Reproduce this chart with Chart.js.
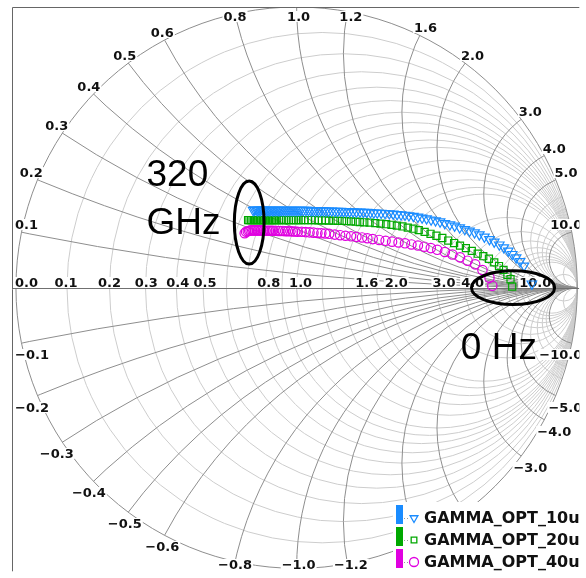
<!DOCTYPE html>
<html>
<head>
<meta charset="utf-8">
<script src="https://cdn.jsdelivr.net/npm/chart.js@4.4.0/dist/chart.umd.min.js"></script>
<style>
html, body { margin: 0; padding: 0; background: #fff; }
canvas { display: block; }
</style>
</head>
<body>
<canvas id="myChart" width="586" height="578"></canvas>
<script>
// series names (legend)
const SERIES_LABELS = ['GAMMA_OPT_10u', 'GAMMA_OPT_20u', 'GAMMA_OPT_40u'];

// optimum reflection coefficient, 320 GHz -> 0 Hz (real / imag part)
const GAMMA_10U_RE = [-0.155, -0.150, -0.144, -0.139, -0.134, -0.129, -0.123, -0.118, -0.113, -0.107,
    -0.102, -0.097, -0.092, -0.086, -0.081, -0.076, -0.070, -0.065, -0.060, -0.055,
    -0.048, -0.041, -0.034, -0.027, -0.020, -0.013, -0.006, 0.001, 0.008, 0.015,
    0.024, 0.033, 0.042, 0.051, 0.059, 0.068, 0.077, 0.086, 0.095, 0.104,
    0.114, 0.125, 0.136, 0.146, 0.157, 0.167, 0.178, 0.189,
    0.201, 0.213, 0.226, 0.238, 0.250, 0.263, 0.275, 0.287,
    0.301, 0.315, 0.330, 0.344, 0.358, 0.372, 0.386, 0.400,
    0.416, 0.432, 0.447, 0.463, 0.479, 0.495, 0.511,
    0.528, 0.546, 0.563, 0.581, 0.599, 0.616, 0.634, 0.651, 0.669, 0.687,
    0.704, 0.722, 0.738, 0.754, 0.768, 0.782, 0.796, 0.810,
    0.838];
const GAMMA_10U_IM = [0.276, 0.277, 0.277, 0.276, 0.276, 0.276, 0.277, 0.276, 0.276, 0.276,
    0.276, 0.276, 0.276, 0.276, 0.276, 0.276, 0.276, 0.276, 0.276, 0.276,
    0.276, 0.276, 0.276, 0.276, 0.276, 0.276, 0.276, 0.276, 0.276, 0.276,
    0.276, 0.276, 0.276, 0.275, 0.275, 0.275, 0.275, 0.275, 0.275, 0.274,
    0.274, 0.274, 0.273, 0.273, 0.273, 0.272, 0.272, 0.271,
    0.271, 0.270, 0.270, 0.269, 0.269, 0.268, 0.267, 0.267,
    0.266, 0.265, 0.264, 0.263, 0.261, 0.260, 0.259, 0.257,
    0.255, 0.252, 0.249, 0.246, 0.242, 0.239, 0.235,
    0.229, 0.225, 0.220, 0.214, 0.208, 0.202, 0.196, 0.189, 0.181, 0.172,
    0.163, 0.153, 0.143, 0.131, 0.119, 0.107, 0.094, 0.078,
    0.014];

const GAMMA_20U_RE = [-0.173, -0.168, -0.162, -0.157, -0.152, -0.146, -0.141, -0.136, -0.130, -0.125,
    -0.120, -0.115, -0.109, -0.104, -0.099, -0.093, -0.088, -0.083, -0.077, -0.072,
    -0.063, -0.055, -0.046, -0.037, -0.028, -0.019, -0.011, -0.002, 0.007, 0.016,
    0.028, 0.041, 0.053, 0.065, 0.078, 0.090, 0.102, 0.115,
    0.131, 0.146, 0.162, 0.178, 0.194, 0.210, 0.225, 0.241,
    0.260, 0.280, 0.299, 0.319, 0.338, 0.357, 0.377, 0.396, 0.416, 0.435,
    0.456, 0.477, 0.498, 0.519, 0.540, 0.561, 0.582, 0.603, 0.624, 0.645,
    0.665, 0.685, 0.704, 0.721, 0.737, 0.751, 0.762,
    0.768];
const GAMMA_20U_IM = [0.241, 0.241, 0.241, 0.241, 0.241, 0.241, 0.241, 0.241, 0.241, 0.241,
    0.241, 0.241, 0.241, 0.241, 0.241, 0.241, 0.241, 0.241, 0.241, 0.241,
    0.241, 0.241, 0.241, 0.241, 0.241, 0.241, 0.241, 0.241, 0.241, 0.241,
    0.241, 0.241, 0.241, 0.241, 0.240, 0.240, 0.240, 0.239,
    0.239, 0.238, 0.238, 0.237, 0.236, 0.235, 0.234, 0.233,
    0.232, 0.230, 0.228, 0.226, 0.224, 0.221, 0.218, 0.214, 0.210, 0.205,
    0.199, 0.192, 0.185, 0.177, 0.168, 0.159, 0.150, 0.141, 0.131, 0.121,
    0.112, 0.103, 0.090, 0.077, 0.063, 0.046, 0.030,
    0.004];

const GAMMA_40U_RE = [-0.185, -0.180, -0.174, -0.169, -0.164, -0.158, -0.153, -0.148, -0.142, -0.137,
    -0.132, -0.127, -0.121, -0.116, -0.111, -0.105, -0.100, -0.095, -0.089, -0.084,
    -0.075, -0.066, -0.058, -0.049, -0.040, -0.031, -0.022, -0.013, -0.005, 0.004,
    0.018, 0.032, 0.046, 0.060, 0.074, 0.088, 0.102, 0.116,
    0.136, 0.155, 0.174, 0.194, 0.213, 0.233, 0.252, 0.271,
    0.294, 0.317, 0.340, 0.363, 0.386, 0.409, 0.432, 0.455, 0.478, 0.501,
    0.528, 0.555, 0.582, 0.609, 0.636, 0.662, 0.687, 0.697];
const GAMMA_40U_IM = [0.194, 0.199, 0.201, 0.203, 0.204, 0.204, 0.204, 0.204, 0.204, 0.204,
    0.204, 0.204, 0.204, 0.203, 0.203, 0.203, 0.203, 0.203, 0.203, 0.203,
    0.203, 0.202, 0.202, 0.202, 0.201, 0.201, 0.201, 0.200, 0.200, 0.199,
    0.199, 0.198, 0.197, 0.196, 0.195, 0.194, 0.193, 0.192,
    0.189, 0.187, 0.185, 0.183, 0.181, 0.179, 0.176, 0.173,
    0.170, 0.167, 0.164, 0.161, 0.158, 0.154, 0.150, 0.146, 0.141, 0.135,
    0.127, 0.118, 0.108, 0.096, 0.083, 0.063, 0.035, 0.007];

// smith chart grid values
const RES_TICKS = [0.0, 0.1, 0.2, 0.3, 0.4, 0.5, 0.8, 1.0, 1.6, 2.0, 3.0, 4.0, 10.0];
const REACT_TICKS = [0.1, 0.2, 0.3, 0.4, 0.5, 0.6, 0.8, 1.0, 1.2, 1.6, 2.0, 3.0, 4.0, 5.0, 10.0];
const RES_CIRCLES = [0.1, 0.2, 0.3, 0.4, 0.5, 0.6, 0.7, 0.8, 0.9, 1.0, 1.2, 1.4, 1.6, 1.8, 2.0, 3.0, 4.0, 5.0, 6.0, 7.0, 8.0, 9.0, 10.0, 20.0];
const REACT_MINOR = [6.0, 7.0, 8.0, 9.0, 20.0];

const SERIES_RE = [GAMMA_10U_RE, GAMMA_20U_RE, GAMMA_40U_RE];
const SERIES_IM = [GAMMA_10U_IM, GAMMA_20U_IM, GAMMA_40U_IM];
const COLORS = ['#1a8cff', '#00a800', '#e000e0'];
const STYLES = ['triangle', 'rect', 'circle'];
const SIZES = [5.5, 5, 4.7];

const LABEL_FONT = 'bold 13px "DejaVu Sans"';

// label centred at mx, visual middle of digits at my
function putLabel(ctx, txt, mx, my) {
    const w = ctx.measureText(txt).width;
    const base = Math.round(my + 5);
    ctx.fillStyle = '#fff';
    ctx.fillRect(mx - w / 2 - 1, base - 10, w + 2, 11);
    ctx.fillStyle = '#111';
    ctx.fillText(txt, mx, base);
}

function drawGrid(chart) {
    const ctx = chart.ctx;
    const a = chart.chartArea;
    const sx = chart.scales.x, sy = chart.scales.y;
    const cx = sx.getPixelForValue(0), cy = sy.getPixelForValue(0);
    const R = sx.getPixelForValue(1) - cx;

    ctx.save();
    ctx.beginPath();
    ctx.rect(a.left, a.top, a.right - a.left, a.bottom - a.top);
    ctx.clip();

    ctx.save();
    ctx.beginPath();
    ctx.arc(cx, cy, R, 0, Math.PI * 2);
    ctx.clip();
    ctx.lineWidth = 1;
    ctx.strokeStyle = '#cdcdcd';
    RES_CIRCLES.forEach(r => {
        ctx.beginPath();
        ctx.arc(sx.getPixelForValue(r / (1 + r)), cy, R / (1 + r), 0, Math.PI * 2);
        ctx.stroke();
    });
    const arcs = (x) => {
        [1, -1].forEach(s => {
            ctx.beginPath();
            ctx.arc(sx.getPixelForValue(1), sy.getPixelForValue(s / x), R / x, 0, Math.PI * 2);
            ctx.stroke();
        });
    };
    REACT_MINOR.forEach(arcs);
    ctx.strokeStyle = '#8e8e8e';
    REACT_TICKS.forEach(arcs);
    ctx.restore();

    ctx.strokeStyle = '#8e8e8e';
    ctx.beginPath();
    ctx.arc(cx, cy, R, 0, Math.PI * 2);
    ctx.stroke();

    // labels
    ctx.font = LABEL_FONT;
    ctx.textAlign = 'center';
    ctx.textBaseline = 'alphabetic';
    RES_TICKS.forEach(r => {
        const gr = (r - 1) / (r + 1);
        const txt = r.toFixed(1);
        const w = ctx.measureText(txt).width;
        let mx = sx.getPixelForValue(gr) + 4 + 6 * gr;
        mx = Math.max(mx, a.left + 3 + w / 2);
        putLabel(ctx, txt, mx, cy - 6);
    });
    REACT_TICKS.forEach(x => {
        [1, -1].forEach(s => {
            const d = x * x + 1;
            const gr = (x * x - 1) / d, gi = s * 2 * x / d;
            const px = sx.getPixelForValue(gr), py = sy.getPixelForValue(gi);
            const txt = (s < 0 ? '\u2212' : '') + x.toFixed(1);
            const w = ctx.measureText(txt).width;
            let mx = px + 2 + 9 * gr;
            let my = s > 0 ? py - 8 : py + 11;
            mx = Math.max(mx, a.left + 3 + w / 2);
            mx = Math.min(mx, a.right + 3 - w / 2);
            my = Math.max(my, a.top + 9);
            my = Math.min(my, a.bottom - 7);
            putLabel(ctx, txt, mx, my);
        });
    });

    // real axis
    ctx.strokeStyle = '#707070';
    ctx.beginPath();
    ctx.moveTo(a.left, Math.round(cy) + 0.5);
    ctx.lineTo(a.right, Math.round(cy) + 0.5);
    ctx.stroke();
    ctx.restore();

    // frame
    ctx.save();
    ctx.strokeStyle = '#666';
    ctx.lineWidth = 1;
    ctx.beginPath();
    ctx.moveTo(a.left + 0.5, a.bottom);
    ctx.lineTo(a.left + 0.5, a.top + 0.5);
    ctx.lineTo(a.right, a.top + 0.5);
    ctx.stroke();
    ctx.restore();
}

function drawNotes(chart) {
    const ctx = chart.ctx;
    const sx = chart.scales.x, sy = chart.scales.y;
    const R = sx.getPixelForValue(1) - sx.getPixelForValue(0);
    ctx.save();
    ctx.strokeStyle = '#000';
    ctx.lineWidth = 3;
    ctx.beginPath();
    ctx.ellipse(sx.getPixelForValue(-0.169), sy.getPixelForValue(0.232), 0.053 * R, 0.148 * R, 0, 0, Math.PI * 2);
    ctx.stroke();
    ctx.beginPath();
    ctx.ellipse(sx.getPixelForValue(0.771), sy.getPixelForValue(0.0), 0.148 * R, 0.060 * R, 0, 0, Math.PI * 2);
    ctx.stroke();
    ctx.fillStyle = '#000';
    ctx.font = '37px "Liberation Sans"';
    ctx.textAlign = 'left';
    ctx.textBaseline = 'alphabetic';
    ctx.fillText('320', sx.getPixelForValue(-0.535), sy.getPixelForValue(0.363));
    ctx.fillText('GHz', sx.getPixelForValue(-0.535), sy.getPixelForValue(0.190));
    ctx.fillText('0 Hz', sx.getPixelForValue(0.585), sy.getPixelForValue(-0.254));
    ctx.restore();
}

function drawMarker(ctx, style, x, y, r) {
    ctx.beginPath();
    if (style === 'triangle') {
        ctx.moveTo(x, y + r);
        ctx.lineTo(x - 0.866 * r, y - 0.5 * r);
        ctx.lineTo(x + 0.866 * r, y - 0.5 * r);
        ctx.closePath();
    } else if (style === 'rect') {
        const h = r * Math.SQRT1_2;
        ctx.rect(x - h, y - h, 2 * h, 2 * h);
    } else {
        ctx.arc(x, y, r, 0, Math.PI * 2);
    }
    ctx.stroke();
}

function drawKey(chart) {
    const ctx = chart.ctx;
    const a = chart.chartArea;
    ctx.save();
    ctx.fillStyle = '#fff';
    ctx.fillRect(393, 502, a.right - 393, a.bottom - 502);
    ctx.font = 'bold 16px "DejaVu Sans"';
    ctx.textAlign = 'left';
    ctx.textBaseline = 'alphabetic';
    SERIES_LABELS.forEach((lab, i) => {
        const base = 523 + i * 22;
        ctx.fillStyle = COLORS[i];
        ctx.fillRect(396, base - 18, 7, 19);
        ctx.strokeStyle = '#999';
        ctx.lineWidth = 1;
        ctx.setLineDash([1, 2]);
        ctx.beginPath();
        ctx.moveTo(404, base - 4.5);
        ctx.lineTo(410, base - 4.5);
        ctx.stroke();
        ctx.setLineDash([]);
        ctx.strokeStyle = COLORS[i];
        ctx.lineWidth = 1.3;
        drawMarker(ctx, STYLES[i], 414, base - 5, i === 1 ? 4 : 4.5);
        ctx.fillStyle = '#111';
        ctx.fillText(lab, 424, base);
    });
    ctx.restore();
}

const smithPlugin = {
    id: 'smith',
    beforeDatasetsDraw(chart) { drawGrid(chart); },
    afterDatasetsDraw(chart) { drawNotes(chart); drawKey(chart); }
};

function drawChart() {
    const ctx = document.getElementById('myChart').getContext('2d');
    const myChart = new Chart(ctx, {
        type: 'scatter',
        data: {
            datasets: SERIES_LABELS.map((lab, i) => ({
                label: lab,
                data: SERIES_RE[i].map((re, k) => ({ x: re, y: SERIES_IM[i][k] })),
                showLine: false,
                pointStyle: STYLES[i],
                pointRotation: i === 0 ? 180 : 0,
                pointRadius: SIZES[i],
                pointBorderWidth: 1.2,
                pointBorderColor: COLORS[i],
                pointBackgroundColor: 'rgba(0,0,0,0)',
                borderColor: COLORS[i]
            }))
        },
        options: {
            responsive: false,
            animation: false,
            layout: { padding: { left: 12, top: 7, right: 0, bottom: 0 } },
            scales: {
                x: { type: 'linear', min: -1.01408, max: 1.00704, display: false },
                y: { type: 'linear', min: -1.01056, max: 1.0, display: false }
            },
            plugins: {
                legend: { display: false },
                tooltip: { enabled: false }
            }
        },
        plugins: [smithPlugin]
    });
}

drawChart();
</script>
</body>
</html>
